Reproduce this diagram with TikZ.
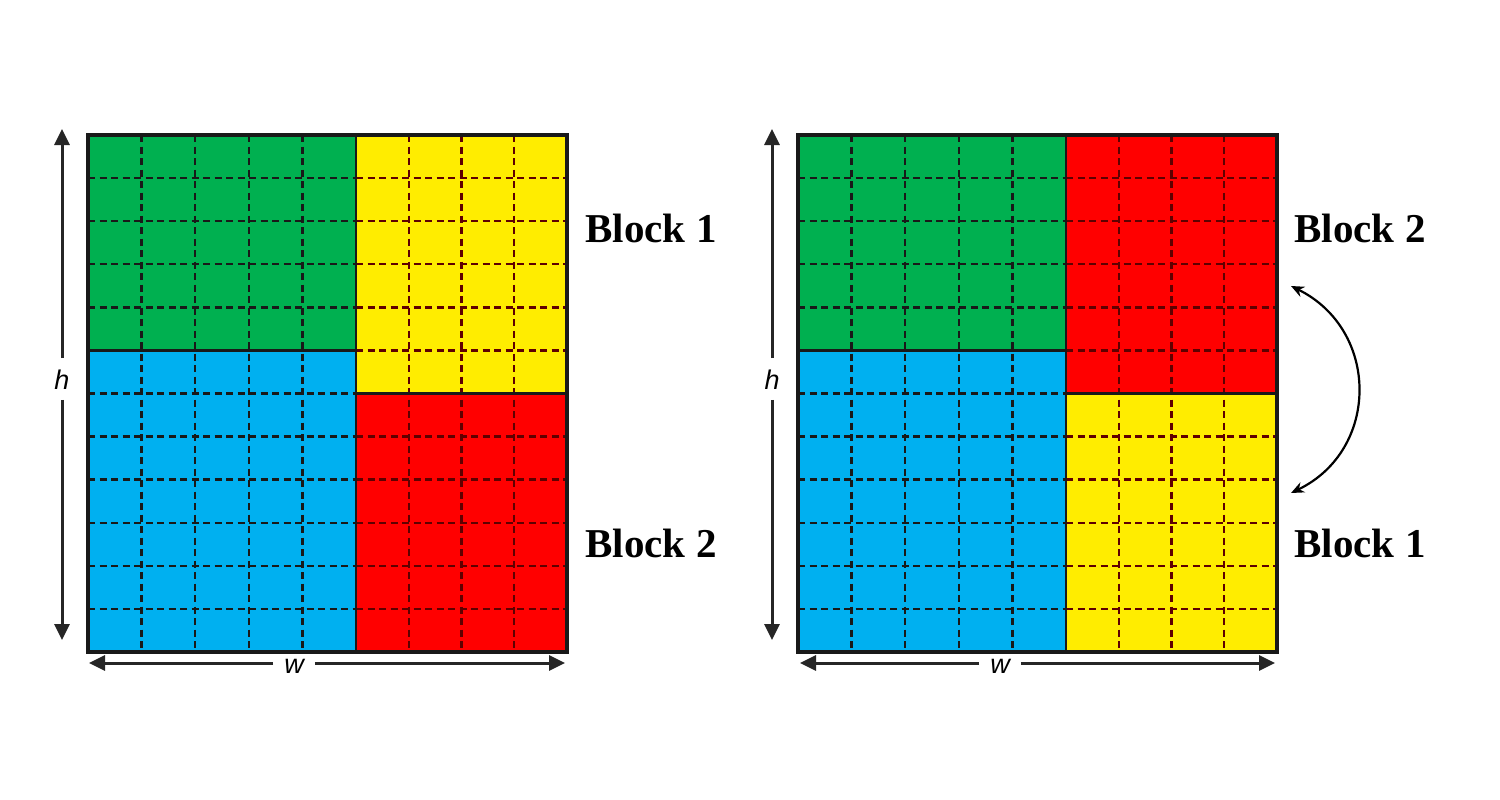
\documentclass[tikz,border=0pt]{standalone}
\usepackage{fontspec}
\setmainfont{Liberation Serif}
\newfontfamily\sansfnt{Liberation Sans}
\usetikzlibrary{arrows.meta}
\definecolor{cgreen}{RGB}{0,176,80}
\definecolor{cblue}{RGB}{0,176,240}
\definecolor{cyellow}{RGB}{255,237,0}
\definecolor{cred}{RGB}{255,0,0}
\definecolor{cmaroon}{RGB}{95,0,0}
\tikzset{
  griddark/.style={line width=2.4pt, dash pattern=on 7pt off 4.5pt, black!90},
  gridmaroon/.style={line width=2.4pt, dash pattern=on 7pt off 4.5pt, cmaroon},
  blockline/.style={line width=3pt, black!90},
  outerline/.style={line width=4pt, black!90, line join=miter},
  dimarrow/.style={line width=3pt, black!85, -{Triangle[length=16pt,width=15pt]}},
  swaparrow/.style={line width=2.2pt, black, {Stealth[length=13pt,width=11pt]}-{Stealth[length=13pt,width=11pt]}},
  dimlabel/.style={font=\sansfnt\itshape\fontsize{27}{27}\selectfont, inner sep=0pt},
  blocklabel/.style={font=\bfseries\fontsize{41}{41}\selectfont, inner sep=0pt}
}
\newcommand\drawpanel[3]{%
  \begin{scope}[shift={(#1,0)}]
    \fill[cgreen] (88,135) rectangle (356,350.4);
    \fill[cblue] (88,350.4) rectangle (356,652);
    \fill[#2] (356,135) rectangle (567,393.5);
    \fill[#3] (356,393.5) rectangle (567,652);
    \foreach \x in {141.6,195.2,248.8,302.4}
      \draw[griddark] (\x,135) -- (\x,652);
    \foreach \j in {1,2,3,4,6,7,8,9,10,11}
      \draw[griddark] (88,{135+43.083*\j}) -- (356,{135+43.083*\j});
    \foreach \x in {408.75,461.5,514.25}
      \draw[gridmaroon] (\x,135) -- (\x,652);
    \foreach \j in {1,2,3,4,5,7,8,9,10,11}
      \draw[gridmaroon] (356,{135+43.083*\j}) -- (567,{135+43.083*\j});
    \draw[blockline] (88,350.4) -- (356,350.4);
    \draw[blockline] (356,393.5) -- (567,393.5);
    \draw[line width=2.5pt, black!90] (356,135) -- (356,652);
    \draw[outerline] (88,135) rectangle (567,652);
  \end{scope}}
\begin{document}
\begin{tikzpicture}[x=1pt,y=-1pt]
\useasboundingbox[fill=white] (0,0) rectangle (1500,800);

% left panel
\drawpanel{0}{cyellow}{cred}
\node[dimlabel] (hL) at (62,380) {h};
\coordinate (hLtop) at (62,129);
\coordinate (hLbot) at (62,640);
\draw[dimarrow] ([yshift=12pt]hL.north) -- (hLtop);
\draw[dimarrow] ([yshift=-10pt]hL.south) -- (hLbot);
\node[dimlabel] (wL) at (294,666) {w};
\coordinate (wLleft) at (89,663);
\coordinate (wLright) at (565,663);
\draw[dimarrow] ([xshift=-11pt]wL.west |- wLleft) -- (wLleft);
\draw[dimarrow] ([xshift=11pt]wL.east |- wLright) -- (wLright);
\node[blocklabel] (b1L) at (651,228) {Block 1};
\node[blocklabel] (b2L) at (651,543) {Block 2};

% right panel
\drawpanel{710}{cred}{cyellow}
\node[dimlabel] (hR) at (772,380) {h};
\coordinate (hRtop) at (772,129);
\coordinate (hRbot) at (772,640);
\draw[dimarrow] ([yshift=12pt]hR.north) -- (hRtop);
\draw[dimarrow] ([yshift=-10pt]hR.south) -- (hRbot);
\node[dimlabel] (wR) at (1000,666) {w};
\coordinate (wRleft) at (800,663);
\coordinate (wRright) at (1275,663);
\draw[dimarrow] ([xshift=-11pt]wR.west |- wRleft) -- (wRleft);
\draw[dimarrow] ([xshift=11pt]wR.east |- wRright) -- (wRright);
\node[blocklabel] (b2R) at (1360,228) {Block 2};
\node[blocklabel] (b1R) at (1360,543) {Block 1};

% swap arrow
\coordinate (swT) at (1291,286);
\coordinate (swB) at (1291,493);
\draw[swaparrow] (swT) .. controls (1380,330) and (1380,450) .. (swB);
\end{tikzpicture}
\end{document}
